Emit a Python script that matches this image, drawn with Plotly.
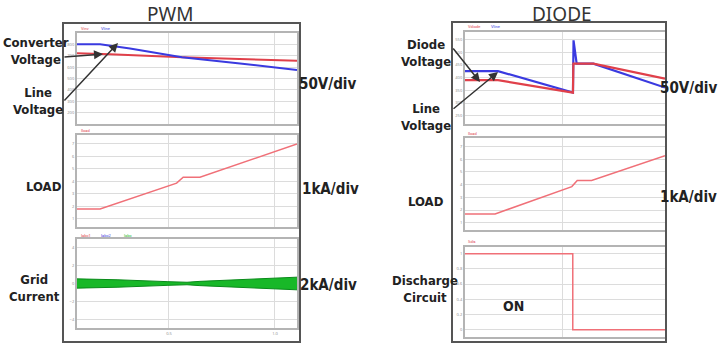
import plotly.graph_objects as go

# ---------------- data ----------------
# PWM (left column)
pwm_conv_t = [0.066, 0.222, 0.561, 1.104]
pwm_conv_v = [721, 713, 686, 655]
pwm_line_t = [0.066, 0.175, 0.316, 0.561, 0.835, 1.104]
pwm_line_v = [801, 801, 764, 686, 632, 575]
pwm_load_t = [0.066, 0.175, 0.536, 0.567, 0.646, 1.104]
pwm_load_v = [1.78, 1.78, 3.86, 4.34, 4.34, 7.0]
pwm_grid_t = [0.066, 0.255, 0.491, 0.585, 0.646, 0.802, 0.882, 0.962, 1.104]
pwm_grid_env = [0.52, 0.42, 0.21, 0.14, 0.24, 0.40, 0.47, 0.53, 0.71]

# DIODE (right column)
dio_diode_t = [0.0, 0.17, 0.556, 0.558, 0.661, 1.03]
dio_diode_v = [390, 390, 341, 455, 455, 396]
dio_line_t = [0.0, 0.17, 0.556, 0.559, 0.575, 0.661, 1.03]
dio_line_v = [426, 426, 341, 547, 455, 455, 361]
dio_load_t = [0.0, 0.155, 0.55, 0.578, 0.652, 1.03]
dio_load_v = [1.69, 1.69, 3.84, 4.32, 4.32, 6.27]
dio_dis_t = [0.0, 0.555, 0.555, 1.03]
dio_dis_v = [1, 1, 0, 0]

W, H = 719, 351
def px(x):
    return x / W
def py(y):
    return 1 - y / H

RED = "#e0404a"
BLUE = "#3a3ae0"
PINK = "#f07078"
GREEN = "#18b828"

fig = go.Figure()
# left top
fig.add_trace(go.Scatter(x=pwm_conv_t, y=pwm_conv_v, mode="lines", line=dict(color=RED, width=2), xaxis="x", yaxis="y"))
fig.add_trace(go.Scatter(x=pwm_line_t, y=pwm_line_v, mode="lines", line=dict(color=BLUE, width=2), xaxis="x", yaxis="y"))
# left middle
fig.add_trace(go.Scatter(x=pwm_load_t, y=pwm_load_v, mode="lines", line=dict(color=PINK, width=1.5), xaxis="x2", yaxis="y2"))
# left bottom (band)
fig.add_trace(go.Scatter(x=pwm_grid_t, y=pwm_grid_env, mode="lines", line=dict(color="#0a8a1a", width=1), xaxis="x3", yaxis="y3"))
fig.add_trace(go.Scatter(x=pwm_grid_t, y=[-v for v in pwm_grid_env], mode="lines", line=dict(color="#0a8a1a", width=1),
                         fill="tonexty", fillcolor=GREEN, xaxis="x3", yaxis="y3"))
# right top
fig.add_trace(go.Scatter(x=dio_line_t, y=dio_line_v, mode="lines", line=dict(color=BLUE, width=2.2), xaxis="x4", yaxis="y4"))
fig.add_trace(go.Scatter(x=dio_diode_t, y=dio_diode_v, mode="lines", line=dict(color=RED, width=2.2), xaxis="x4", yaxis="y4"))
# right middle
fig.add_trace(go.Scatter(x=dio_load_t, y=dio_load_v, mode="lines", line=dict(color=PINK, width=1.5), xaxis="x5", yaxis="y5"))
# right bottom
fig.add_trace(go.Scatter(x=dio_dis_t, y=dio_dis_v, mode="lines", line=dict(color=PINK, width=1.5), xaxis="x6", yaxis="y6"))

tickf = dict(size=4, color="#888")
def xax(dom, rng, tickvals, anchor, showlabels):
    return dict(domain=dom, range=rng, anchor=anchor, tickvals=tickvals, showticklabels=showlabels,
                ticktext=[str(v) for v in tickvals], tickfont=tickf, ticks="",
                showgrid=True, gridcolor="#dcdcdc", gridwidth=1, zeroline=False,
                showline=True, mirror=True, linecolor="#b4b4b4", linewidth=2)
def yax(dom, rng, tickvals, anchor):
    return dict(domain=dom, range=rng, anchor=anchor, tickvals=tickvals, tickfont=tickf, ticks="",
                showgrid=True, gridcolor="#dcdcdc", gridwidth=1, zeroline=False,
                showline=True, mirror=True, linecolor="#b4b4b4", linewidth=2)

LX = [px(77), px(297)]
RX = [px(465), px(665)]
lrng = [0.066, 1.104]
rrng = [0.0, 1.03]

fig.update_layout(
    width=W, height=H, margin=dict(l=0, r=0, t=0, b=0),
    paper_bgcolor="white", plot_bgcolor="white", showlegend=False,
    xaxis=xax(LX, lrng, [0.5, 1.0], "y", False),
    yaxis=yax([py(124), py(33)], [100, 900], [200, 300, 400, 500, 600, 700, 800], "x"),
    xaxis2=xax(LX, lrng, [0.5, 1.0], "y2", False),
    yaxis2=yax([py(227), py(135)], [0.34, 7.72], [1, 2, 3, 4, 5, 6, 7], "x2"),
    xaxis3=xax(LX, lrng, [0.5, 1.0], "y3", True),
    yaxis3=yax([py(328), py(239)], [-5, 5], [-4, -2, 0, 2, 4], "x3"),
    xaxis4=xax(RX, rrng, [0.5], "y4", False),
    yaxis4=yax([py(124), py(32)], [217.5, 580], [250, 300, 350, 400, 450, 500, 550], "x4"),
    xaxis5=xax(RX, rrng, [0.5], "y5", False),
    yaxis5=yax([py(230), py(138)], [0.43, 7.66], [1, 2, 3, 4, 5, 6, 7], "x5"),
    xaxis6=xax(RX, rrng, [0.5], "y6", False),
    yaxis6=yax([py(337), py(247)], [-0.096, 1.088], [0, 0.2, 0.4, 0.6, 0.8, 1], "x6"),
)

# outer frames
for (x0, y0, x1, y1) in [(63, 23, 300, 342), (452, 22, 666, 342)]:
    fig.add_shape(type="rect", xref="paper", yref="paper", x0=px(x0), x1=px(x1), y0=py(y1), y1=py(y0),
                  line=dict(color="#555", width=2), layer="above")

FONT = "DejaVu Sans Condensed, Liberation Sans Narrow, Roboto, sans-serif"
def txt(x, y, s, size=13, color="#222", bold=True, family=FONT, anchor="center"):
    fig.add_annotation(x=px(x), y=py(y), xref="paper", yref="paper", text=(f"<b>{s}</b>" if bold else s),
                       showarrow=False, xanchor=anchor, yanchor="middle",
                       font=dict(size=size, color=color, family=family))

# titles
txt(170, 14, "PWM", size=19, color="#333", bold=False, family="Noto Sans, sans-serif")
txt(562, 14, "DIODE", size=19, color="#333", bold=False, family="Noto Sans, sans-serif")

# labels left
txt(36, 51, "Converter<br>Voltage", size=13)
txt(38, 101, "Line<br>Voltage", size=13)
txt(327, 84, "50V/div", size=15)
txt(44, 187, "LOAD", size=13)
txt(330, 189, "1kA/div", size=15)
txt(34, 288, "Grid<br>Current", size=13)
txt(328, 285, "2kA/div", size=15)
# labels right
txt(426, 53, "Diode<br>Voltage", size=13)
txt(426, 117, "Line<br>Voltage", size=13)
txt(719, 88, "50V/div", size=15, anchor="right")
txt(426, 201, "LOAD", size=13)
txt(719, 197, "1kA/div", size=15, anchor="right")
txt(425, 289, "Discharge<br>Circuit", size=13)
txt(513, 306, "ON", size=14)

# tiny trace legends
def tiny(x, y, s, color):
    fig.add_annotation(x=px(x), y=py(y), xref="paper", yref="paper", text=s, showarrow=False,
                       xanchor="left", yanchor="middle", font=dict(size=4, color=color, family="Roboto"))
tiny(79, 28, "Vinv", RED); tiny(99, 28, "Vline", BLUE)
tiny(79, 131, "Iload", RED)
tiny(79, 235, "Iabc1", RED); tiny(99, 235, "Iabc2", BLUE); tiny(122, 235, "Iabc", GREEN)
tiny(466, 26, "Vdiode", RED); tiny(489, 26, "Vline", BLUE)
tiny(466, 133, "Iload", RED)
tiny(466, 241, "Sdis", RED)

# arrows (head, tail)
for (hx, hy, tx, ty) in [(103, 54, 63, 57), (118, 43, 63, 102), (480, 82, 452, 47), (498, 72, 452, 110)]:
    fig.add_annotation(x=px(hx), y=py(hy), xref="paper", yref="paper", text="", showarrow=True,
                       ax=tx - hx, ay=ty - hy, arrowhead=2, arrowsize=1.2, arrowwidth=1.5, arrowcolor="#333")

fig.write_html("out.html")
